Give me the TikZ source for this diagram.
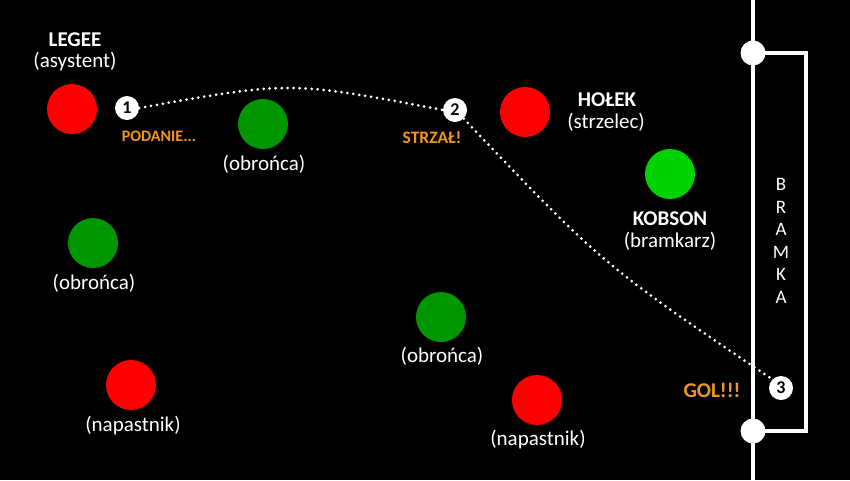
\documentclass[tikz,border=0pt]{standalone}
\usepackage{fontspec}
\setmainfont{Carlito}
\definecolor{pred}{RGB}{255,0,0}
\definecolor{dgreen}{RGB}{0,150,0}
\definecolor{lgreen}{RGB}{0,210,0}
\definecolor{ora}{RGB}{240,150,30}
\begin{document}
\begin{tikzpicture}[x=1pt,y=-1pt,
  player/.style={circle,minimum size=50pt,inner sep=0pt},
  lbl/.style={text=white,font=\fontsize{21}{22}\selectfont,inner sep=0pt},
  pname/.style={text=white,font=\bfseries\fontsize{21}{22}\selectfont,inner sep=0pt},
  act/.style={text=ora,font=\bfseries\fontsize{16}{18}\selectfont,inner sep=0pt},
  marker/.style={circle,fill=white,minimum size=24pt,inner sep=0pt,text=black,font=\bfseries\fontsize{18}{18}\selectfont},
  post/.style={circle,fill=white,minimum size=25pt,inner sep=0pt},
  ball/.style={white,line width=3pt,line cap=round,dash pattern=on 0pt off 6pt}]
\fill[black] (0,0) rectangle (850,480);
\useasboundingbox (0,0) rectangle (850,480);
% goal line and goal
\coordinate (gtop) at (753,0);
\coordinate (gbot) at (753,480);
\draw[white,line width=4pt] (gtop) -- (gbot);
\node[post] (p1) at (753,53) {};
\node[post] (p2) at (753,431) {};
\coordinate (c1) at (806,53);
\coordinate (c2) at (806,431);
\draw[white,line width=3.5pt,line join=miter] (p1.center) -- (c1) -- (c2) -- (p2.center);
\node[text=white,font=\fontsize{19}{22.5}\selectfont,align=center,inner sep=0pt] (bramka) at (781,241) {B\\R\\A\\M\\K\\A};
% players
\node[player,fill=pred] (legee) at (72,109) {};
\node[pname] (legeeN) at (75,40) {LEGEE};
\node[lbl] (legeeR) at (75,62) {(asystent)};
\node[player,fill=dgreen] (ob1) at (263,124) {};
\node[lbl] (ob1L) at (264,164) {(obrońca)};
\node[player,fill=pred] (holek) at (525,112) {};
\node[pname] (holekN) at (607,100) {HOŁEK};
\node[lbl] (holekR) at (606,122) {(strzelec)};
\node[player,fill=lgreen] (kobson) at (670,174) {};
\node[pname] (kobsonN) at (670,219) {KOBSON};
\node[lbl] (kobsonR) at (670,241) {(bramkarz)};
\node[player,fill=dgreen] (ob2) at (93,243) {};
\node[lbl] (ob2L) at (94,283) {(obrońca)};
\node[player,fill=dgreen] (ob3) at (441,317) {};
\node[lbl] (ob3L) at (442,356) {(obrońca)};
\node[player,fill=pred] (nap1) at (131,385) {};
\node[lbl] (nap1L) at (133,426) {(napastnik)};
\node[player,fill=pred] (nap2) at (537,400) {};
\node[lbl] (nap2L) at (538,440) {(napastnik)};
% ball path
\node[marker] (m1) at (127,108) {1};
\node[marker] (m2) at (455,110) {2};
\node[marker] (m3) at (781,388) {3};
\draw[ball] (m1.east) .. controls (290,81) .. (m2.west);
\draw[ball] (m2.south east) .. controls (603,265) .. (m3.north west);
\node[act] (podanie) at (159,136) {PODANIE...};
\node[act,font=\bfseries\fontsize{17.5}{19}\selectfont] (strzal) at (432,138) {STRZAŁ!};
\node[act,font=\bfseries\fontsize{21}{22}\selectfont] (gol) at (712,390) {GOL!!!};
\end{tikzpicture}
\end{document}
